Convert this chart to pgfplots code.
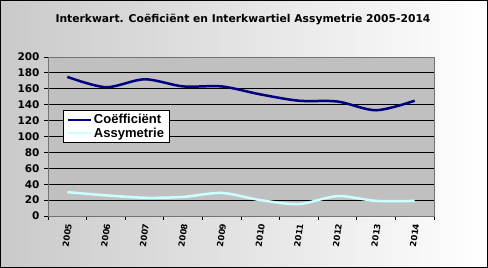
\documentclass[border=0pt]{standalone}
\usepackage{fontspec}
\setmainfont{Liberation Sans}
\newfontfamily\dejavu{DejaVu Sans}
\usepackage{pgfplots}
\pgfplotsset{compat=1.18}
\definecolor{plotbg}{HTML}{C0C0C0}
\definecolor{coef}{HTML}{000080}
\definecolor{assy}{HTML}{CCFFFF}
\begin{document}
\begin{tikzpicture}[x=1pt,y=1pt]
\shade[left color=gray!42, right color=white] (0,0) rectangle (488,268);
\draw[black, line width=1pt] (0.5,0.5) rectangle (487.5,267.5);
\node[font=\dejavu\bfseries\fontsize{10.75}{12}\selectfont] at (243,248) {Interkwart. Coëficiënt en Interkwartiel Assymetrie 2005-2014};
\begin{axis}[at={(48pt,52pt)}, anchor=south west, scale only axis,
  width=386pt, height=159pt,
  xmin=-0.5, xmax=9.5, ymin=0, ymax=200,
  ytick={0,20,...,200},
  xtick={0,...,9},
  xticklabels={2005,2006,2007,2008,2009,2010,2011,2012,2013,2014},
  minor xtick={-0.5,0.5,...,9.5},
  major x tick style={draw=none},
  tick align=outside, tick pos=left,
  major tick length=4pt, minor tick length=4pt,
  tick style={black, line width=0.8pt},
  ymajorgrids, grid style={black, line width=0.8pt},
  axis background/.style={fill=plotbg},
  axis line style={gray!90!black, line width=0.8pt},
  /pgf/number format/assume math mode=true,
  yticklabel style={font=\dejavu\bfseries\fontsize{10.5}{11}\selectfont, xshift=-1pt},
  xticklabel style={font=\dejavu\bfseries\fontsize{8.5}{9}\selectfont, rotate=82, anchor=east, yshift=-2pt},
  legend style={at={(0.039,0.667)}, anchor=north west, draw=black, line width=0.8pt, fill=white,
    font=\bfseries\fontsize{13}{14}\selectfont, row sep=-1.5pt, inner xsep=3pt, inner ysep=2pt},
  legend cell align=left,
  legend image code/.code={\draw[#1, line width=2.5pt] (0pt,0pt) -- (23pt,0pt);},
]
\addplot[coef, line width=2.5pt, smooth, tension=0.5] coordinates {
(0,175) (1,162) (2,172) (3,163) (4,163) (5,153) (6,145) (7,144) (8,133) (9,145)};
\addlegendentry{Coëfficiënt\hspace{12pt}}
\addplot[assy, line width=2.5pt, smooth, tension=0.5] coordinates {
(0,30) (1,26) (2,23) (3,24) (4,29) (5,20) (6,15) (7,25) (8,19) (9,19)};
\addlegendentry{Assymetrie}
\end{axis}
\end{tikzpicture}
\end{document}
